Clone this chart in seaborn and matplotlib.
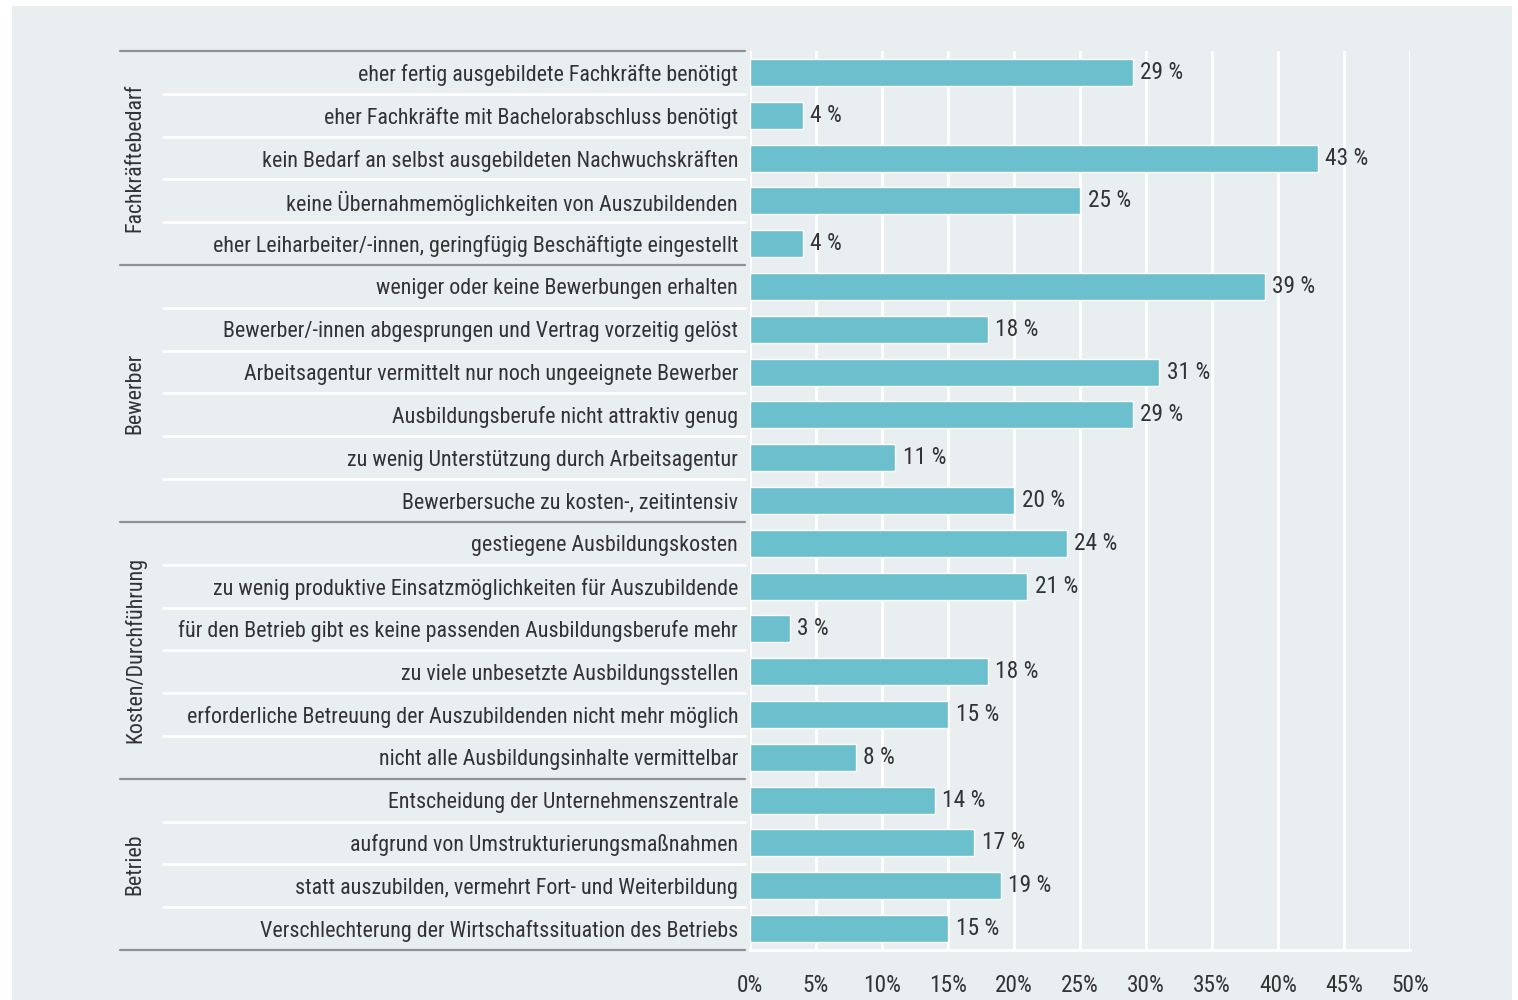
import matplotlib
matplotlib.use("Agg")
import matplotlib.pyplot as plt
import matplotlib.transforms as mtransforms
from matplotlib import font_manager
from matplotlib.patches import Rectangle
import pandas as pd
import seaborn as sns

# --- data -------------------------------------------------------------
groups = ["Fachkräftebedarf", "Bewerber", "Kosten/Durchführung", "Betrieb"]

reasons_fachkraefte = [
    "eher fertig ausgebildete Fachkräfte benötigt",
    "eher Fachkräfte mit Bachelorabschluss benötigt",
    "kein Bedarf an selbst ausgebildeten Nachwuchskräften",
    "keine Übernahmemöglichkeiten von Auszubildenden",
    "eher Leiharbeiter/-innen, geringfügig Beschäftigte eingestellt",
]
values_fachkraefte = [29, 4, 43, 25, 4]

reasons_bewerber = [
    "weniger oder keine Bewerbungen erhalten",
    "Bewerber/-innen abgesprungen und Vertrag vorzeitig gelöst",
    "Arbeitsagentur vermittelt nur noch ungeeignete Bewerber",
    "Ausbildungsberufe nicht attraktiv genug",
    "zu wenig Unterstützung durch Arbeitsagentur",
    "Bewerbersuche zu kosten-, zeitintensiv",
]
values_bewerber = [39, 18, 31, 29, 11, 20]

reasons_kosten = [
    "gestiegene Ausbildungskosten",
    "zu wenig produktive Einsatzmöglichkeiten für Auszubildende",
    "für den Betrieb gibt es keine passenden Ausbildungsberufe mehr",
    "zu viele unbesetzte Ausbildungsstellen",
    "erforderliche Betreuung der Auszubildenden nicht mehr möglich",
    "nicht alle Ausbildungsinhalte vermittelbar",
]
values_kosten = [24, 21, 3, 18, 15, 8]

reasons_betrieb = [
    "Entscheidung der Unternehmenszentrale",
    "aufgrund von Umstrukturierungsmaßnahmen",
    "statt auszubilden, vermehrt Fort- und Weiterbildung",
    "Verschlechterung der Wirtschaftssituation des Betriebs",
]
values_betrieb = [14, 17, 19, 15]

x_ticks = [0, 5, 10, 15, 20, 25, 30, 35, 40, 45, 50]

group_reasons = [reasons_fachkraefte, reasons_bewerber, reasons_kosten, reasons_betrieb]
group_values = [values_fachkraefte, values_bewerber, values_kosten, values_betrieb]

df = pd.DataFrame({
    "Grund": [r for rs in group_reasons for r in rs],
    "Anteil": [v for vs in group_values for v in vs],
    "Gruppe": [g for g, rs in zip(groups, group_reasons) for _ in rs],
})

# --- style ------------------------------------------------------------
BG = "#e9eef1"
BAR = "#6cbfcc"
TEXT = "#333333"
RULE = "#8c9296"
FS = 15.8
FS_NUM = 16.8

sns.set_theme(style="white")

available = {f.name for f in font_manager.fontManager.ttflist}
font_kw = {}
for fam in ["Roboto Condensed", "Liberation Sans Narrow", "Open Sans Condensed",
            "Noto Sans Condensed", "DejaVu Sans Condensed"]:
    if fam in available:
        font_kw = {"family": fam}
        break
if not font_kw:
    font_kw = {"family": "DejaVu Sans", "stretch": "condensed"}
plt.rcParams["font.family"] = [font_kw["family"], "DejaVu Sans"]
if "stretch" in font_kw:
    plt.rcParams["font.stretch"] = font_kw["stretch"]

W, H = 1518, 1000
fig = plt.figure(figsize=(W / 100, H / 100), dpi=100, facecolor="white")
fig.patches.append(Rectangle((12 / W, 0), (1512 - 12) / W, (994 - 0) / H,
                             transform=fig.transFigure, facecolor=BG,
                             edgecolor="none", zorder=-10))

ax_left, ax_right = 750 / W, 1410 / W
ax_top, ax_bottom = 1 - 51 / H, 1 - 950 / H
ax = fig.add_axes([ax_left, ax_bottom, ax_right - ax_left, ax_top - ax_bottom])
ax.set_facecolor(BG)

sns.barplot(data=df, y="Grund", x="Anteil", orient="h", color=BAR,
            width=0.63, saturation=1, ax=ax, zorder=3)

n = len(df)
ax.set_xlim(0, 50)
ax.set_ylim(n - 0.5, -0.5)
ax.set_xticks(x_ticks)
ax.set_xticklabels([f"{t}%" for t in x_ticks], fontsize=FS_NUM, color=TEXT)
ax.set_xlabel("")
ax.set_ylabel("")
ax.tick_params(axis="y", length=0, pad=8.6, labelsize=FS, labelcolor=TEXT)
ax.tick_params(axis="x", length=8, width=2, color="white", pad=9, direction="out")
for lab in ax.get_yticklabels():
    lab.set_horizontalalignment("right")

ax.grid(axis="x", color="white", linewidth=2, zorder=0)
ax.set_axisbelow(True)
for side in ["top", "right", "left"]:
    ax.spines[side].set_visible(False)
ax.spines["bottom"].set_color("white")
ax.spines["bottom"].set_linewidth(2)

# value labels
for cont in ax.containers:
    ax.bar_label(cont, labels=[f"{v:.0f} %" for v in cont.datavalues],
                 padding=5.5, fontsize=FS_NUM, color=TEXT)

# row separators and group rules in the label column
trans = mtransforms.blended_transform_factory(fig.transFigure, ax.transData)
starts = []
pos = 0
for rs in group_reasons:
    starts.append(pos)
    pos += len(rs)
boundaries = set(starts) | {n}
for i in range(n + 1):
    y = i - 0.5
    if i in boundaries:
        ax.plot([120 / W, 745 / W], [y, y], transform=trans, color=RULE,
                linewidth=1.6, clip_on=False, zorder=4)
    else:
        ax.plot([163 / W, 745 / W], [y, y], transform=trans, color="white",
                linewidth=2, clip_on=False, zorder=4)

# rotated group names
for g, s, rs in zip(groups, starts, group_reasons):
    mid = s + (len(rs) - 1) / 2
    ax.text(135 / W, mid, g, transform=trans, rotation=90, ha="center",
            va="center", fontsize=FS, color=TEXT)

fig.savefig("out.png", dpi=100, facecolor="white")
